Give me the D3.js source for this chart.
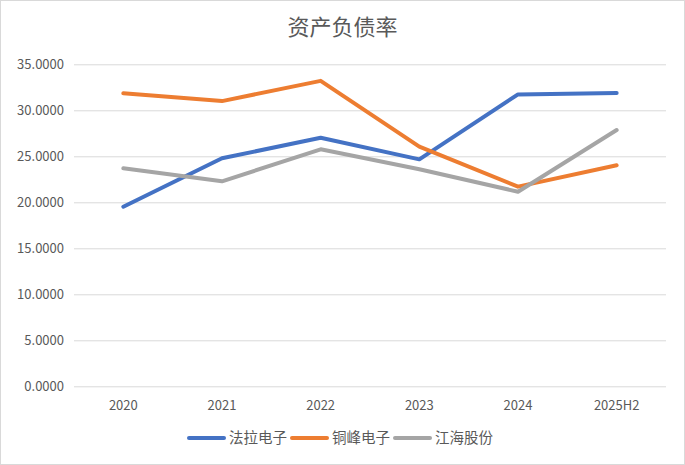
<!DOCTYPE html>
<html><head><meta charset="utf-8">
<script src="https://cdn.jsdelivr.net/npm/d3@7"></script>
<style>body{margin:0;background:#fff;}svg{display:block;}</style>
</head><body>
<script>
const categories = ["2020","2021","2022","2023","2024","2025H2"];
const seriesNames = ["法拉电子","铜峰电子","江海股份"];
const faLa = [19.52, 24.78, 27.02, 24.67, 31.73, 31.88];
const tongFeng = [31.85, 31.0, 33.2, 26.05, 21.7, 24.02];
const jiangHai = [23.7, 22.28, 25.76, 23.6, 21.15, 27.86];
const yTicks = [0,5,10,15,20,25,30,35];
const colors = ["#4472C4","#ED7D31","#A5A5A5"];
const series = [faLa, tongFeng, jiangHai];

const W = 685, H = 465;
const font = "'Noto Sans CJK SC', 'Microsoft YaHei', sans-serif";
const svg = d3.select("body").append("svg").attr("width", W).attr("height", H);
svg.append("rect").attr("x",0.5).attr("y",0.5).attr("width",W-1).attr("height",H-1)
  .attr("fill","#fff").attr("stroke","#d9d9d9");

const x = d3.scaleBand().domain(categories).range([74, 666]);
const y = d3.scaleLinear().domain([0,35]).range([386.3, 64.3]);

svg.append("text").attr("x", W/2).attr("y", 35).attr("text-anchor","middle")
  .attr("font-family", font).attr("font-size", 22).attr("fill","#595959").text("资产负债率");

const yAxis = d3.axisLeft(y).tickValues(yTicks).tickSize(-(666-74)).tickFormat(d => d3.format(".4f")(d));
const gy = svg.append("g").attr("transform","translate(74,0)").call(yAxis);
gy.select(".domain").remove();
gy.selectAll(".tick line").attr("stroke","#d9d9d9");
gy.selectAll(".tick text").attr("x",-10).attr("fill","#595959").attr("font-size",13).attr("font-family",font);

const xAxis = d3.axisBottom(x).tickSize(0);
const gx = svg.append("g").attr("transform","translate(0,386.3)").call(xAxis);
gx.select(".domain").remove();
gx.selectAll(".tick text").attr("dy",0).attr("y",24).attr("fill","#595959").attr("font-size",13).attr("font-family",font);

const line = d3.line().x((d,i) => x(categories[i]) + x.bandwidth()/2).y(d => y(d));
series.forEach((s,k) => {
  svg.append("path").datum(s).attr("d", line).attr("fill","none")
    .attr("stroke", colors[k]).attr("stroke-width", 4).attr("stroke-linecap","round").attr("stroke-linejoin","round");
});

// legend
const legend = svg.append("g");
let lx = 189;
const ly = 438;
seriesNames.forEach((n,k) => {
  legend.append("line").attr("x1",lx).attr("x2",lx+35).attr("y1",ly).attr("y2",ly)
    .attr("stroke",colors[k]).attr("stroke-width",4).attr("stroke-linecap","round");
  const t = legend.append("text").attr("x",lx+40).attr("y",ly+5).attr("font-size",14.5)
    .attr("font-family",font).attr("fill","#595959").text(n);
  lx += 40 + t.node().getComputedTextLength() + 5;
});
</script>
</body></html>
